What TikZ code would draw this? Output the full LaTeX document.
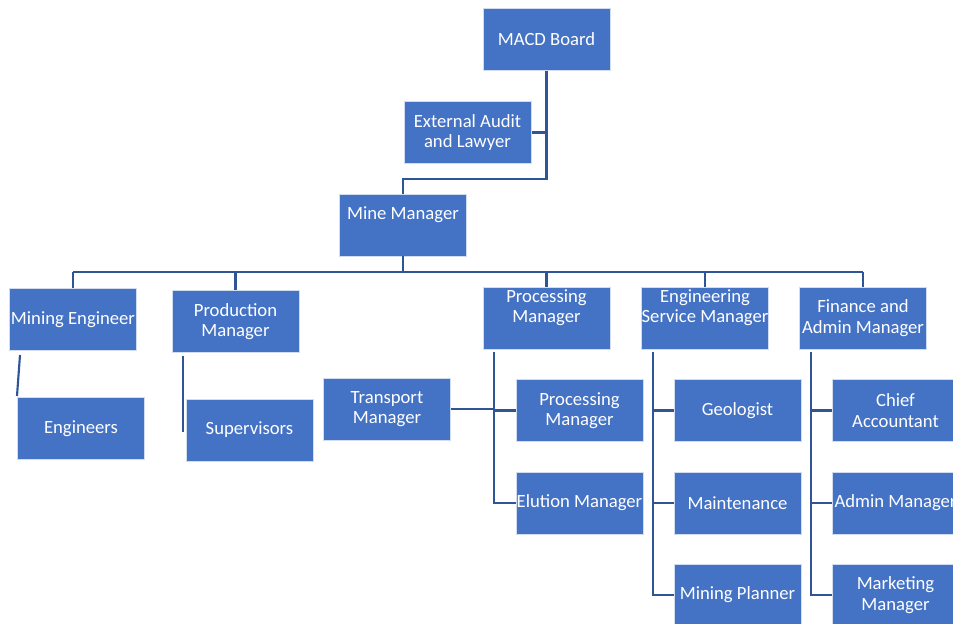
\documentclass[tikz,border=0pt]{standalone}
\usepackage{fontspec}
\setmainfont{Carlito}
\definecolor{boxblue}{HTML}{4472C4}
\definecolor{lineblue}{HTML}{2F5597}
\begin{document}
\begin{tikzpicture}[x=0.75pt,y=-0.75pt,
  orgbox/.style={fill=boxblue,draw=white!75!boxblue,line width=0.5pt,text=white,
    minimum width=95.5pt,minimum height=46.5pt,inner sep=0pt,align=center,
    font=\fontsize{14}{15.2}\selectfont},
  boxtext/.style={text=white,align=center,font=\fontsize{14}{15.2}\selectfont,inner sep=0pt},
  conn/.style={draw=lineblue,line width=1.9pt}]
\useasboundingbox (0,0) rectangle (953,624);
\clip (0,0) rectangle (953,624);
% boxes
\node[orgbox] (board) at (546.5,39.5) {MACD Board};
\node[orgbox] (audit) at (467.5,132.5) {External Audit\\and Lawyer};
\node[orgbox,label={[boxtext,yshift=8pt]center:{Mine Manager}}] (mm) at (403,225) {};
\node[orgbox] (mineng) at (73,319.5) {Mining Engineer};
\node[orgbox] (prod) at (235.5,321.5) {Production\\Manager};
\node[orgbox,label={[boxtext,yshift=8pt]center:{Processing\\Manager}}] (proc) at (546.5,318) {};
\node[orgbox,label={[boxtext,yshift=8pt]center:{Engineering\\Service Manager}}] (eng) at (705,318) {};
\node[orgbox] (fin) at (863,318) {Finance and\\Admin Manager};
\node[orgbox] (engineers) at (81,428.5) {Engineers};
\node[orgbox] (superv) at (249.5,430) {Supervisors};
\node[orgbox] (transport) at (387,409) {Transport\\Manager};
\node[orgbox] (proc2) at (579.5,410.5) {Processing\\Manager};
\node[orgbox] (elution) at (579.5,503) {Elution Manager};
\node[orgbox] (geo) at (737.5,410.5) {Geologist};
\node[orgbox] (maint) at (737.5,503) {Maintenance};
\node[orgbox] (planner) at (737.5,595) {Mining Planner};
\node[orgbox] (chief) at (895.5,410.5) {Chief\\Accountant};
\node[orgbox] (admin) at (895.5,503) {Admin Manager};
\node[orgbox] (marketing) at (895.5,595) {Marketing\\Manager};
% top connectors
\draw[conn] (board.south) -- ++(0,108) -| (mm.north);
\draw[conn] (audit.east) -- (audit.east -| board.south);
% level bar
\coordinate (bar) at (72,272);
\draw[conn] (mm.south) -- (mm.south |- bar);
\draw[conn] (mineng.north |- bar) -- (fin.north |- bar);
\foreach \n in {mineng,prod,proc,eng,fin}
  \draw[conn] (\n.north |- bar) -- (\n.north);
% mining engineer / production
\coordinate (me1) at (20,355);
\coordinate (me2) at (17,396);
\draw[conn,line width=1.6pt] (me1) -- (me2);
\coordinate (pm1) at (183,356);
\coordinate (pm2) at (183,432);
\draw[conn,line width=1.6pt] (pm1) -- (pm2);
% processing
\coordinate (pt) at (494,352);
\draw[conn] (pt) |- (elution.west);
\draw[conn] (proc2.west -| pt) -- (proc2.west);
\draw[conn] (transport.east) -- (transport.east -| pt);
% engineering
\coordinate (et) at (653,352);
\draw[conn] (et) |- (planner.west);
\draw[conn] (geo.west -| et) -- (geo.west);
\draw[conn] (maint.west -| et) -- (maint.west);
% finance
\coordinate (ft) at (811,352);
\draw[conn] (ft) |- (marketing.west);
\draw[conn] (chief.west -| ft) -- (chief.west);
\draw[conn] (admin.west -| ft) -- (admin.west);
\end{tikzpicture}
\end{document}
